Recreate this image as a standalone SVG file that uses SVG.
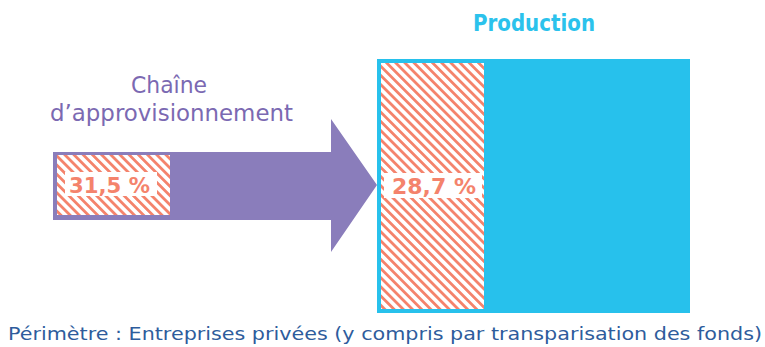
<svg xmlns="http://www.w3.org/2000/svg" width="765" height="347" viewBox="0 0 765 347">
  <defs>
    <pattern id="hatch" patternUnits="userSpaceOnUse" width="6.5" height="6.5" patternTransform="rotate(-45)">
      <rect width="6.5" height="6.5" fill="#ffffff"/>
      <rect width="2.8" height="6.5" fill="#F4836C"/>
    </pattern>
  </defs>
  <style>
    .title { font-family: "DejaVu Sans", "Liberation Sans", sans-serif; }
    .pct { font-family: "DejaVu Sans", "Liberation Sans", sans-serif; font-weight: bold; font-size: 21px; fill: #F4836C; }
  </style>
  <rect width="765" height="347" fill="#ffffff"/>
  <g id="connectors">
    <polygon id="arrow" points="53,152 331,152 331,119 377,185 331,252 331,220 53,220" fill="#8A7DBB"/>
  </g>
  <g id="node-supply">
    <rect x="57" y="155" width="113" height="60" fill="url(#hatch)"/>
    <rect x="65" y="172" width="92" height="24" fill="#ffffff"/>
    <text class="pct" x="69" y="193" textLength="81" lengthAdjust="spacingAndGlyphs">31,5 %</text>
    <text class="title" font-size="23" fill="#7B69B2" x="131" y="93" textLength="76" lengthAdjust="spacingAndGlyphs">Chaîne</text>
    <text class="title" font-size="23" fill="#7B69B2" x="50" y="121" textLength="243" lengthAdjust="spacingAndGlyphs">d’approvisionnement</text>
  </g>
  <g id="node-production">
    <rect x="377" y="59" width="313" height="254" fill="#27C1EC"/>
    <rect x="381" y="63" width="103" height="246" fill="url(#hatch)"/>
    <rect x="384" y="173" width="98" height="25" fill="#ffffff"/>
    <text class="pct" x="392" y="194" textLength="84" lengthAdjust="spacingAndGlyphs">28,7 %</text>
    <text class="title" font-size="23" font-weight="bold" fill="#2BC2EC" x="473" y="31" textLength="122" lengthAdjust="spacingAndGlyphs">Production</text>
  </g>
  <text class="title" font-size="18" fill="#2E5C9C" x="8" y="340" textLength="754" lengthAdjust="spacingAndGlyphs">Périmètre : Entreprises privées (y compris par transparisation des fonds)</text>
</svg>
